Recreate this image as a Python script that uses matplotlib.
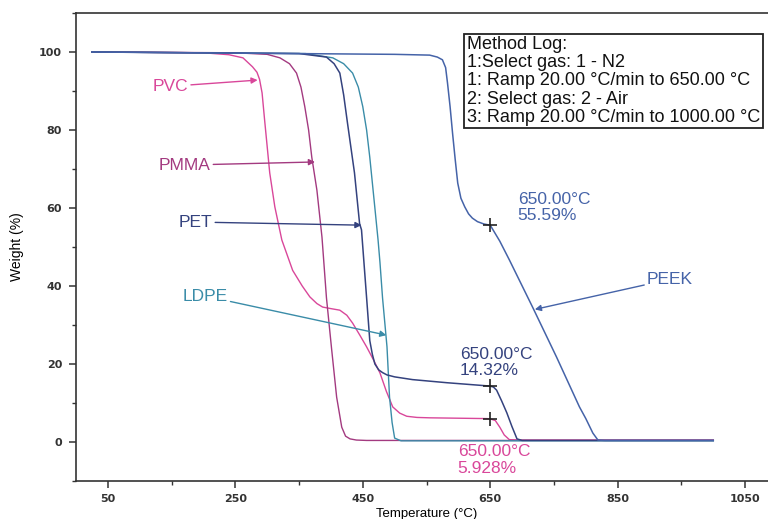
import matplotlib
matplotlib.use("Agg")
import matplotlib.pyplot as plt
from matplotlib.ticker import MultipleLocator, FixedLocator

plt.rcParams['font.family'] = ['Liberation Sans', 'DejaVu Sans']

# TGA curves (temperature in C, weight in %)
pvc_t = [25, 200, 240, 262, 277, 284, 288, 292, 296, 304, 312, 323, 340, 355, 367, 378, 387,
         400, 414, 425, 434, 445, 456, 467, 477, 487, 497, 508, 519, 535, 555, 600, 645, 650,
         658, 665, 672, 680, 700, 850, 1000]
pvc_w = [100, 99.8, 99.3, 98.5, 96.2, 94.8, 93.0, 89.5, 82.5, 69, 60.3, 51.8, 44, 40, 37.2,
         35.5, 34.6, 34.2, 33.8, 32.5, 30.5, 27.5, 24.4, 21, 17.7, 13, 9, 7.4, 6.6, 6.3, 6.2,
         6.1, 6.0, 5.93, 5.5, 3.8, 1.8, 0.6, 0.5, 0.5, 0.5]

pmma_t = [25, 250, 300, 320, 335, 346, 353, 359, 365, 370, 378, 386, 393, 401, 409, 417, 423,
          430, 440, 456, 600, 1000]
pmma_w = [100, 99.8, 99.4, 98.5, 97, 94.6, 91, 86, 80, 73, 64.6, 52.5, 37, 24, 11.5, 3.8, 1.5,
          0.8, 0.5, 0.4, 0.4, 0.4]

pet_t = [25, 350, 393, 405, 414, 420, 426, 437, 445, 448, 456, 461, 465, 469, 475, 481, 488,
         500, 528, 582, 645, 650, 655, 660, 668, 676, 684, 692, 700, 1000]
pet_w = [100, 99.6, 98.7, 97, 94.6, 89, 81.8, 69, 56, 54.4, 37, 26, 22.5, 20, 18.5, 17.8, 17.2,
         16.7, 16, 15.2, 14.4, 14.32, 14.1, 13.3, 10.5, 7.5, 4, 0.8, 0.4, 0.4]

ldpe_t = [25, 360, 403, 420, 434, 443, 450, 456, 461, 469, 474, 477, 481, 488, 492, 496, 500,
          510, 1000]
ldpe_w = [100, 99.6, 98.5, 97, 94.6, 91, 86, 80, 73, 60, 51.8, 46, 37, 24.4, 11.5, 5, 1, 0.3,
          0.3]

peek_t = [25, 500, 555, 567, 575, 580, 583, 587, 591, 595, 599, 604, 610, 616, 622, 630, 640,
          650, 665, 680, 717, 754, 790, 800, 811, 819, 830, 1000]
peek_w = [100, 99.4, 99.2, 98.7, 98, 96, 92, 86, 79, 72.5, 66.4, 62.5, 60.3, 58.5, 57.4, 56.5,
          55.9, 55.59, 51.5, 46.7, 34.4, 21.8, 9, 6, 2.3, 0.5, 0.4, 0.4]

# points marked with a cross at 650 C
mark_t = [650, 650, 650]
mark_w = [55.59, 14.32, 5.928]

method_log = ["Method Log:",
              "1:Select gas: 1 - N2",
              "1: Ramp 20.00 \u00b0C/min to 650.00 \u00b0C",
              "2: Select gas: 2 - Air",
              "3: Ramp 20.00 \u00b0C/min to 1000.00 \u00b0C"]

c_pvc = '#d9479a'
c_pmma = '#a33a80'
c_pet = '#34427e'
c_ldpe = '#3a8ca8'
c_peek = '#4563a8'

fig = plt.figure(figsize=(7.68, 5.19), dpi=100)
ax = fig.add_axes([76/768, 38/519, 701/768, 468/519])

ax.plot(pvc_t, pvc_w, color=c_pvc, lw=1.0)
ax.plot(pmma_t, pmma_w, color=c_pmma, lw=1.0)
ax.plot(ldpe_t, ldpe_w, color=c_ldpe, lw=1.0)
ax.plot(pet_t, pet_w, color=c_pet, lw=1.1)
ax.plot(peek_t, peek_w, color=c_peek, lw=1.1)
ax.plot(mark_t, mark_w, ls='none', marker='+', ms=10, mew=1.2, color='#222222', zorder=5)

ax.set_xlim(0, 1100)
ax.set_ylim(-10, 110)
ax.xaxis.set_major_locator(FixedLocator([50, 250, 450, 650, 850, 1050]))
ax.xaxis.set_minor_locator(FixedLocator([150, 350, 550, 750, 950]))
ax.yaxis.set_major_locator(MultipleLocator(20))
ax.yaxis.set_minor_locator(MultipleLocator(10))
ax.set_ylim(-10, 110)
ax.tick_params(which='major', direction='out', length=5, width=1.1, color='#333333')
ax.tick_params(which='minor', direction='out', length=3, width=1.0, color='#333333')
ax.tick_params(top=False, right=False, which='both')
ax.tick_params(axis='x', pad=4)
ax.tick_params(axis='y', pad=5)
for lab in ax.get_xticklabels() + ax.get_yticklabels():
    lab.set_fontfamily('DejaVu Sans')
    lab.set_fontweight('bold')
    lab.set_fontsize(8)
    lab.set_color('#333333')
for s in ['left', 'bottom', 'top']:
    ax.spines[s].set_linewidth(1.2)
    ax.spines[s].set_color('#333333')
ax.spines['right'].set_visible(False)

ax.set_xlabel('Temperature (\u00b0C)', fontsize=9.5, labelpad=3)
ax.set_ylabel('Weight (%)', fontsize=10, labelpad=11)

# curve labels with arrows
arrow = dict(arrowstyle='-|>', lw=1.0, mutation_scale=9, shrinkA=0, shrinkB=0)
ax.annotate('PVC', xy=(285, 92.8), xytext=(176, 91.2), color=c_pvc, fontsize=12.5,
            ha='right', va='center', arrowprops=dict(arrow, color=c_pvc))
ax.annotate('PMMA', xy=(375, 71.8), xytext=(211, 71.0), color=c_pmma, fontsize=12.5,
            ha='right', va='center', arrowprops=dict(arrow, color=c_pmma))
ax.annotate('PET', xy=(448, 55.6), xytext=(214, 56.4), color=c_pet, fontsize=12.5,
            ha='right', va='center', arrowprops=dict(arrow, color=c_pet))
ax.annotate('LDPE', xy=(487, 27.4), xytext=(238, 35.5), color=c_ldpe, fontsize=12.5,
            ha='right', va='bottom', arrowprops=dict(arrow, color=c_ldpe))
ax.annotate('PEEK', xy=(720, 34.0), xytext=(896, 39.8), color=c_peek, fontsize=12.5,
            ha='left', va='bottom', arrowprops=dict(arrow, color=c_peek))

ax.text(693, 64.2, '650.00\u00b0C\n55.59%', color=c_peek, fontsize=12.5, va='top', ha='left',
        linespacing=1.1)
ax.text(602, 24.3, '650.00\u00b0C\n14.32%', color=c_pet, fontsize=12.5, va='top', ha='left',
        linespacing=1.1)
ax.text(599, -0.6, '650.00\u00b0C\n5.928%', color=c_pvc, fontsize=12.5, va='top', ha='left',
        linespacing=1.1)

ax.text(613, 104.0, '\n'.join(method_log), fontsize=13, va='top', ha='left', color='#111111',
        linespacing=1.08,
        bbox=dict(boxstyle='square,pad=0.15', fc='white', ec='#222222', lw=1.3))

fig.savefig('out.png', dpi=100)
